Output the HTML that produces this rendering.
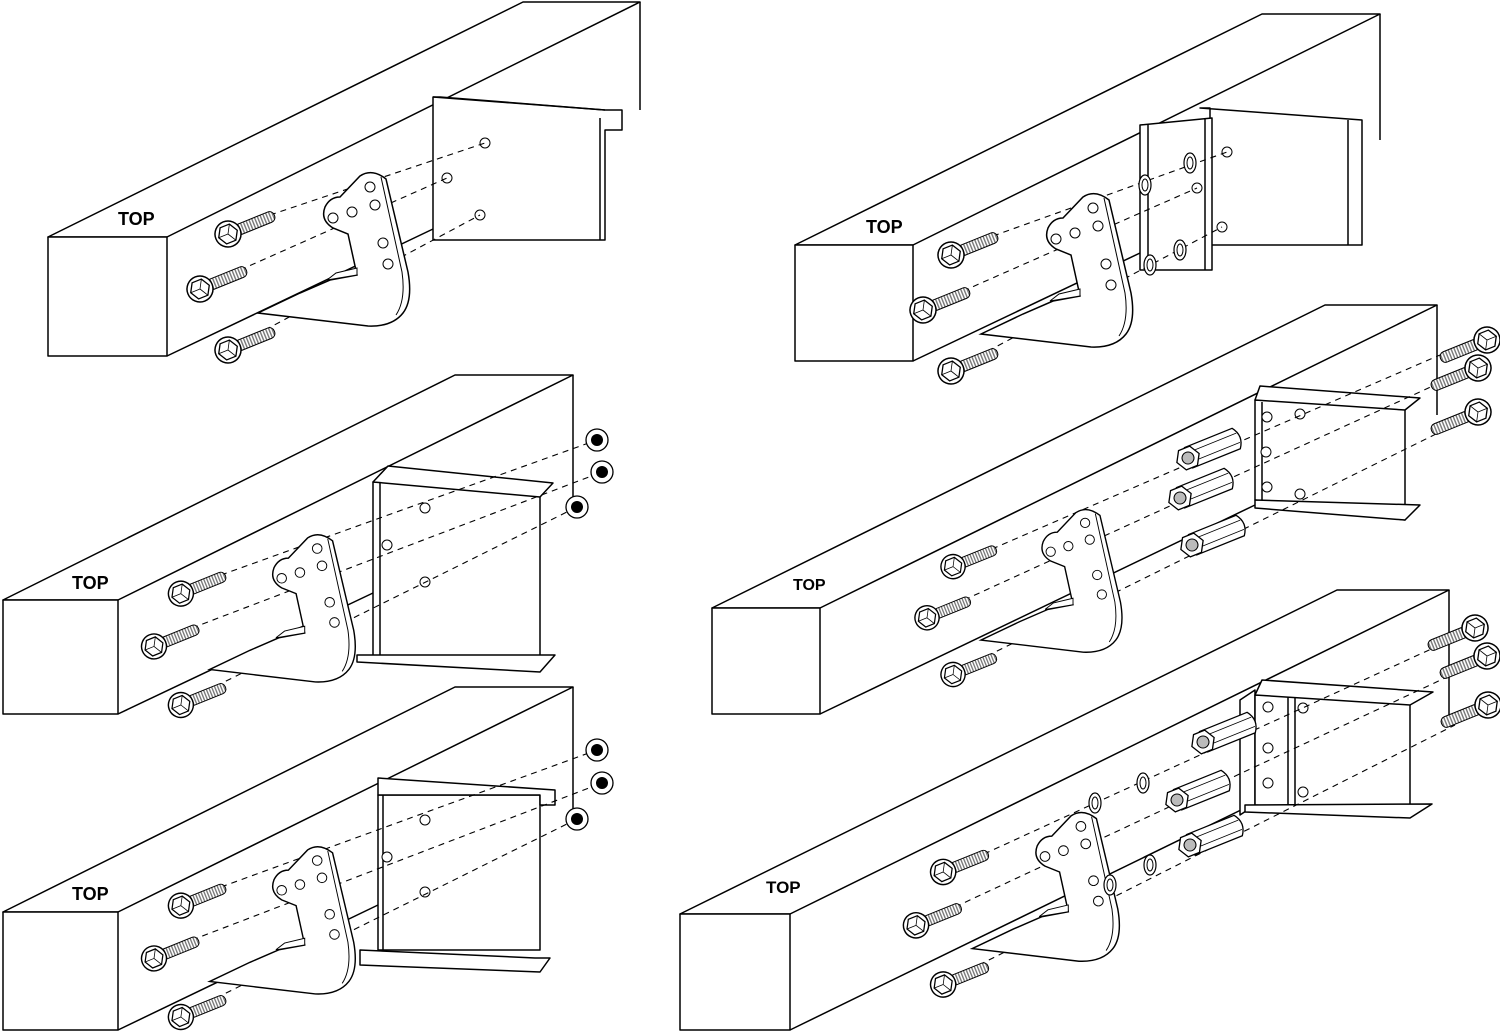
<!DOCTYPE html>
<html><head><meta charset="utf-8"><style>
html,body{margin:0;padding:0;background:#fff;width:1500px;height:1035px;overflow:hidden}
svg{display:block}
text{font-family:"Liberation Sans",sans-serif;font-weight:bold;fill:#000}
</style></head><body>
<svg width="1500" height="1035" viewBox="0 0 1500 1035" xmlns="http://www.w3.org/2000/svg">
<defs>
<pattern id="thr" width="3" height="3" patternUnits="userSpaceOnUse"><rect width="3" height="3" fill="#fff"/><rect width="1.4" height="3" fill="#777"/></pattern>
<g id="bolt">
  <rect x="8" y="-5.5" width="42" height="11" rx="5" fill="url(#thr)" stroke="#000" stroke-width="1"/>
  <circle r="13" fill="#fff" stroke="#000" stroke-width="1.5"/>
  <polygon points="10,0 5,8.7 -5,8.7 -10,0 -5,-8.7 5,-8.7" fill="#fff" stroke="#000" stroke-width="1.3"/>
  <path d="M0,0 L5,-8.7 M0,0 L-10,0 M0,0 L5,8.7" stroke="#000" stroke-width="0.8"/>
</g>
<g id="nut">
  <circle r="11" fill="#fff" stroke="#000" stroke-width="1.3"/>
  <circle r="6" fill="#000"/>
</g>
<g id="spacer">
  <path d="M0,-11 L52,-11 Q60,0 52,11 L0,11" fill="#fff" stroke="#000" stroke-width="1.3"/>
  <path d="M4,-5 L54,-5 M4,5 L54,5" stroke="#000" stroke-width="0.8"/>
  <polygon points="12,0 6,10.4 -6,10.4 -12,0 -6,-10.4 6,-10.4" fill="#fff" stroke="#000" stroke-width="1.3"/>
  <circle r="6" fill="#bbb" stroke="#000" stroke-width="1"/>
</g>
<g id="washer">
  <ellipse rx="6" ry="10" fill="#fff" stroke="#000" stroke-width="1.2"/>
  <ellipse rx="3" ry="6" fill="#fff" stroke="#000" stroke-width="1"/>
</g>
<g id="hole"><circle r="5" fill="#fff" stroke="#000" stroke-width="1"/></g>
<g id="brk">
  <path d="M340,197 L360,176 Q372,168 386,179 L408,272 Q413,300 403,313 Q392,327 368,326 L258,313 L300,293 L330,280 L357,275 L348,234 L333,228 Q320,220 325,207 Q330,197 340,197 Z" fill="#fff" stroke="#000" stroke-width="1.5"/>
  <path d="M381,177 L402,272 Q406,300 396,315" fill="none" stroke="#000" stroke-width="1"/>
  <polygon points="327,280 357,275 357,268 336,273" fill="#fff" stroke="#000" stroke-width="1"/>
  <use href="#hole" x="370" y="187"/><use href="#hole" x="375" y="205"/><use href="#hole" x="352" y="212"/>
  <use href="#hole" x="333" y="218"/><use href="#hole" x="383" y="243"/><use href="#hole" x="388" y="264"/>
  <use href="#bolt" transform="translate(228,234) rotate(-22)"/>
  <use href="#bolt" transform="translate(200,289) rotate(-22)"/>
  <use href="#bolt" transform="translate(228,350) rotate(-22)"/>
</g>
</defs>
<g fill="#fff" stroke="#000" stroke-width="1.5" stroke-linejoin="round">
<!-- P1 -->
<polygon points="48,237 167,237 640,2 523,2"/>
<line x1="640" y1="2" x2="640" y2="110"/>
<line x1="167" y1="356" x2="433" y2="229"/>
<rect x="48" y="237" width="119" height="119"/>
<polygon points="440,97 605,110 622,110 622,130 605,130 605,240 433,240 433,97"/>
<line x1="600" y1="118" x2="600" y2="240"/>
<line x1="433" y1="97" x2="605" y2="110"/>
<!-- P2 -->
<polygon points="3,600 118,600 573,375 455,375"/>
<line x1="573" y1="375" x2="573" y2="505"/>
<line x1="118" y1="714" x2="373" y2="593"/>
<rect x="3" y="600" width="115" height="114"/>
<rect x="373" y="482" width="167" height="175"/>
<polygon points="373,482 388,466 553,483 540,497 373,482"/>
<line x1="380" y1="482" x2="380" y2="657"/>
<polygon points="357,655 555,655 540,672 357,662"/>
<!-- P3 -->
<polygon points="3,912 118,912 573,687 455,687"/>
<line x1="573" y1="687" x2="573" y2="810"/>
<line x1="118" y1="1030" x2="378" y2="905"/>
<rect x="3" y="912" width="115" height="118"/>
<rect x="378" y="795" width="162" height="155"/>
<polygon points="378,795 378,778 555,790 555,805 540,805 540,795"/>
<line x1="383" y1="795" x2="383" y2="950"/>
<polygon points="360,950 535,958 550,958 540,972 360,965"/>
<!-- R1 -->
<polygon points="795,245 913,245 1380,14 1262,14"/>
<line x1="1380" y1="14" x2="1380" y2="140"/>
<line x1="913" y1="361" x2="1140" y2="253"/>
<rect x="795" y="245" width="118" height="116"/>
<polygon points="1200,108 1362,120 1362,245 1210,245 1210,108"/>
<line x1="1348" y1="120" x2="1348" y2="245"/>
<polygon points="1140,125 1212,118 1212,270 1140,270"/>
<line x1="1148" y1="124" x2="1148" y2="270"/><line x1="1205" y1="118" x2="1205" y2="270"/>
<!-- R2 -->
<polygon points="712,608 820,608 1437,305 1325,305"/>
<line x1="1437" y1="305" x2="1437" y2="415"/>
<line x1="820" y1="714" x2="1255" y2="505"/>
<rect x="712" y="608" width="108" height="106"/>
<polygon points="1255,400 1405,405 1405,520 1255,500"/>
<polygon points="1255,400 1260,386 1420,398 1405,410"/>
<polygon points="1255,500 1420,505 1405,520 1255,508"/>
<line x1="1262" y1="402" x2="1262" y2="500"/>
<!-- R3 -->
<polygon points="680,914 790,914 1449,590 1337,590"/>
<line x1="1449" y1="590" x2="1449" y2="715"/>
<line x1="790" y1="1030" x2="1245" y2="808"/>
<rect x="680" y="914" width="110" height="116"/>
<polygon points="1240,700 1255,690 1255,805 1240,815"/>
<polygon points="1255,695 1410,700 1410,815 1255,805"/>
<polygon points="1255,695 1262,680 1433,692 1410,705"/>
<polygon points="1245,805 1432,804 1410,818 1245,812"/>
<line x1="1288" y1="697" x2="1288" y2="805"/><line x1="1295" y1="697" x2="1295" y2="805"/>
</g>
<!-- holes on crossmembers -->
<use href="#hole" x="485" y="143"/><use href="#hole" x="447" y="178"/><use href="#hole" x="480" y="215"/>
<use href="#hole" x="425" y="508"/><use href="#hole" x="387" y="545"/><use href="#hole" x="425" y="582"/>
<use href="#hole" x="425" y="820"/><use href="#hole" x="387" y="857"/><use href="#hole" x="425" y="892"/>
<use href="#hole" x="1227" y="152"/><use href="#hole" x="1197" y="188"/><use href="#hole" x="1222" y="227"/>
<use href="#hole" x="1300" y="414"/><use href="#hole" x="1266" y="452"/><use href="#hole" x="1300" y="494"/>
<use href="#hole" x="1303" y="708"/><use href="#hole" x="1268" y="748"/><use href="#hole" x="1303" y="792"/>
<!-- dashed -->
<g stroke="#000" stroke-width="1.1" stroke-dasharray="6,5" fill="none">
<line x1="270" y1="215" x2="485" y2="143"/><line x1="240" y1="270" x2="447" y2="178"/><line x1="265" y1="330" x2="480" y2="215"/>
<line x1="221" y1="575" x2="597" y2="440"/><line x1="192" y1="628" x2="602" y2="472"/><line x1="216" y1="686" x2="577" y2="507"/>
<line x1="221" y1="887" x2="597" y2="750"/><line x1="192" y1="940" x2="602" y2="783"/><line x1="216" y1="998" x2="577" y2="819"/>
<line x1="993" y1="236" x2="1227" y2="152"/><line x1="963" y1="291" x2="1197" y2="188"/><line x1="988" y1="351" x2="1222" y2="227"/>
<line x1="992" y1="549" x2="1440" y2="355"/><line x1="964" y1="600" x2="1435" y2="385"/><line x1="987" y1="656" x2="1440" y2="432"/>
<line x1="984" y1="854" x2="1440" y2="645"/><line x1="955" y1="907" x2="1445" y2="678"/><line x1="979" y1="965" x2="1455" y2="725"/>
</g>
<!-- brackets -->
<use href="#brk"/>
<use href="#brk" transform="translate(-38,369) scale(0.96)"/>
<use href="#brk" transform="translate(-38,681) scale(0.96)"/>
<use href="#brk" transform="translate(723,21)"/>
<use href="#brk" transform="translate(741,349) scale(0.93)"/>
<use href="#brk" transform="translate(722,645) scale(0.97)"/>
<!-- nuts -->
<use href="#nut" x="597" y="440"/><use href="#nut" x="602" y="472"/><use href="#nut" x="577" y="507"/>
<use href="#nut" x="597" y="750"/><use href="#nut" x="602" y="783"/><use href="#nut" x="577" y="819"/>
<!-- washers -->
<use href="#washer" x="1190" y="163"/><use href="#washer" x="1145" y="185"/><use href="#washer" x="1180" y="250"/><use href="#washer" x="1150" y="265"/>
<use href="#washer" x="1143" y="783"/><use href="#washer" x="1095" y="803"/><use href="#washer" x="1150" y="865"/><use href="#washer" x="1110" y="885"/>
<!-- spacers -->
<use href="#spacer" transform="translate(1188,458) rotate(-22)"/>
<use href="#spacer" transform="translate(1180,498) rotate(-22)"/>
<use href="#spacer" transform="translate(1192,545) rotate(-22)"/>
<use href="#spacer" transform="translate(1203,742) rotate(-22)"/>
<use href="#spacer" transform="translate(1177,800) rotate(-22)"/>
<use href="#spacer" transform="translate(1190,845) rotate(-22)"/>
<!-- small studs -->
<use href="#hole" x="1267" y="417"/><use href="#hole" x="1267" y="487"/>
<use href="#hole" x="1268" y="707"/><use href="#hole" x="1268" y="783"/>
<!-- right bolts -->
<use href="#bolt" transform="translate(1487,340) rotate(158)"/>
<use href="#bolt" transform="translate(1478,368) rotate(158)"/>
<use href="#bolt" transform="translate(1478,412) rotate(158)"/>
<use href="#bolt" transform="translate(1475,628) rotate(158)"/>
<use href="#bolt" transform="translate(1487,656) rotate(158)"/>
<use href="#bolt" transform="translate(1488,705) rotate(158)"/>
<!-- labels -->
<text x="118" y="225" font-size="18">TOP</text>
<text x="72" y="589" font-size="18">TOP</text>
<text x="72" y="900" font-size="18">TOP</text>
<text x="866" y="233" font-size="18">TOP</text>
<text x="793" y="590" font-size="16">TOP</text>
<text x="766" y="893" font-size="17">TOP</text>
</svg>
</body></html>
